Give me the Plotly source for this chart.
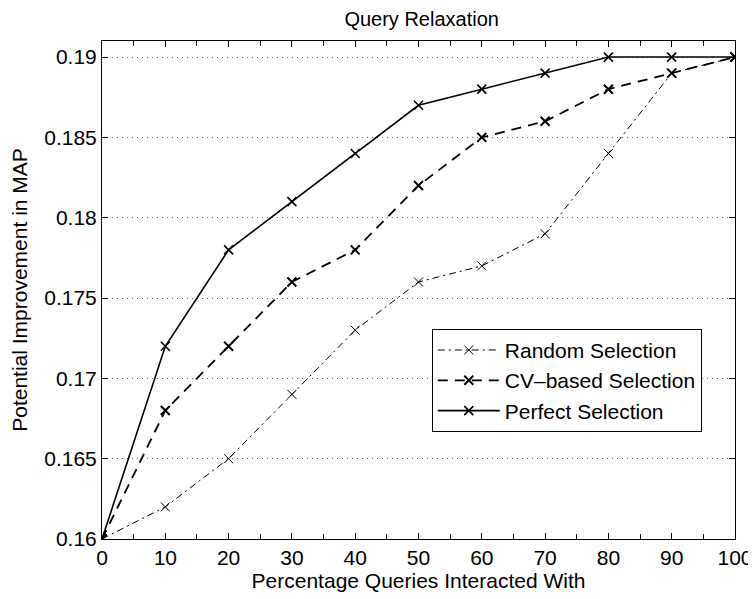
import plotly.graph_objects as go

pct = [0, 10, 20, 30, 40, 50, 60, 70, 80, 90, 100]
random_sel = [0.160, 0.162, 0.165, 0.169, 0.173, 0.176, 0.177, 0.179, 0.184, 0.189, 0.190]
cv_sel = [0.160, 0.168, 0.172, 0.176, 0.178, 0.182, 0.185, 0.186, 0.188, 0.189, 0.190]
perfect_sel = [0.160, 0.172, 0.178, 0.181, 0.184, 0.187, 0.188, 0.189, 0.190, 0.190, 0.190]

fig = go.Figure()
fig.add_trace(go.Scatter(x=pct, y=random_sel, name="Random Selection", mode="lines+markers",
                         line=dict(color="black", width=1, dash="7px,4px,2px,4px"),
                         marker=dict(symbol="x-thin", size=9, line=dict(color="black", width=1))))
fig.add_trace(go.Scatter(x=pct, y=cv_sel, name="CV\u2013based Selection", mode="lines+markers",
                         line=dict(color="black", width=1.8, dash="10px,7px"),
                         marker=dict(symbol="x-thin", size=9, line=dict(color="black", width=2))))
fig.add_trace(go.Scatter(x=pct, y=perfect_sel, name="Perfect Selection", mode="lines+markers",
                         line=dict(color="black", width=1.6),
                         marker=dict(symbol="x-thin", size=9, line=dict(color="black", width=1.6))))

# page body adds an 8px margin, so the figure is shrunk by that much
fig.update_layout(
    width=748, height=591,
    paper_bgcolor="white", plot_bgcolor="white",
    margin=dict(l=94, r=21, t=33, b=60),
    font=dict(family="Liberation Sans, Arial, sans-serif", size=21, color="black"),
    title=dict(text="Query Relaxation", x=0.553, xanchor="center", y=0.993, yanchor="top",
               pad=dict(t=0, b=0), font=dict(size=20)),
    legend=dict(x=0.521, xanchor="left", y=0.422, yanchor="top",
                bordercolor="black", borderwidth=1, bgcolor="white",
                font=dict(size=21), tracegroupgap=0, itemwidth=62),
    showlegend=True,
)
fig.update_xaxes(range=[0, 100], tick0=0, dtick=10, ticks="inside", ticklen=6,
                 tickcolor="black", showline=True, linecolor="black", linewidth=1,
                 mirror="ticks", showgrid=False, zeroline=False, automargin=False,
                 minor=dict(dtick=5, ticks="inside", ticklen=5, tickcolor="black"),
                 title=dict(text="Percentage Queries Interacted With", font=dict(size=21), standoff=2))
fig.update_yaxes(range=[0.16, 0.191], tick0=0.16, dtick=0.005, ticks="inside", ticklen=6,
                 tickcolor="black", showline=True, linecolor="black", linewidth=1,
                 mirror="ticks", showgrid=True, gridcolor="#666666", griddash="1px,4px", gridwidth=1,
                 zeroline=False, tickformat="~g", automargin=False,
                 title=dict(text="Potential Improvement in MAP", font=dict(size=21), standoff=10))

fig.write_html("out.html")
